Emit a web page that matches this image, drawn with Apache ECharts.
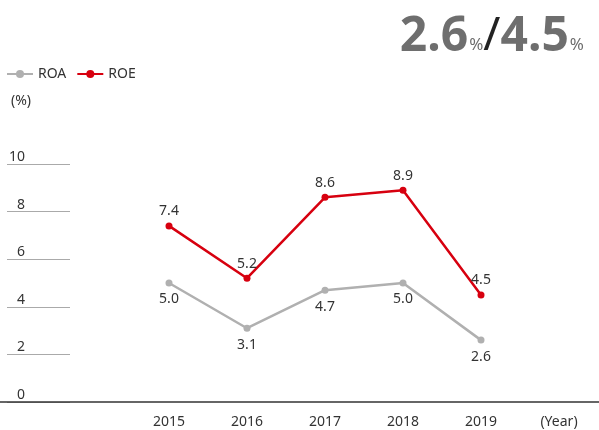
<!DOCTYPE html>
<html>
<head>
<meta charset="utf-8">
<script src="https://cdn.jsdelivr.net/npm/echarts@6/dist/echarts.min.js"></script>
<style>
  html, body { margin: 0; padding: 0; background: #fff; }
  #chart { width: 599px; height: 430px; }
</style>
</head>
<body>
<div id="chart"></div>
<script>
// 数据
const years = ["2015", "2016", "2017", "2018", "2019"];
const roa = [5.0, 3.1, 4.7, 5.0, 2.6];
const roe = [7.4, 5.2, 8.6, 8.9, 4.5];
const yMin = 0, yMax = 10, yStep = 2;
const unitLabel = "(Year)";

(function () {
    let myChart = echarts.init(document.getElementById("chart"));
    const font = "Noto Sans";
    const textColor = "#333";

    let option = {
        animation: false,
        textStyle: { fontFamily: font },
        title: [
            {
                right: 10,
                top: 8,
                text: "{a|2.6}{b|%}{c|/}{a|4.5}{b|%}",
                textStyle: {
                    rich: {
                        a: { fontSize: 48, fontWeight: "bold", color: "#6e6e6e", fontFamily: font },
                        b: { fontSize: 17, fontWeight: "normal", color: "#6e6e6e", fontFamily: font, padding: [16, 0, 0, 1] },
                        c: { fontSize: 46, fontWeight: "normal", color: "#222", fontFamily: font }
                    }
                }
            },
            {
                left: 6,
                top: 89,
                text: "(%)",
                textStyle: { fontSize: 14, fontWeight: "normal", color: textColor, fontFamily: font }
            }
        ],
        legend: {
            left: 1,
            top: 62,
            itemWidth: 26,
            itemHeight: 10,
            itemGap: 10,
            textStyle: { fontSize: 14, color: textColor },
            data: ["ROA", "ROE"]
        },
        grid: [
            // 底部横线
            { left: 0, right: 0, top: 164, bottom: 28 },
            // 左侧短刻度线
            { left: 7, width: 63, top: 164, bottom: 28 },
            // 折线区域
            { left: 130, right: 1, top: 164, bottom: 28 }
        ],
        xAxis: [
            {
                gridIndex: 0, type: "value", min: 0, max: 1,
                axisLine: { show: true, lineStyle: { color: "#333", width: 1.5 } },
                axisTick: { show: false }, axisLabel: { show: false }, splitLine: { show: false }
            },
            {
                gridIndex: 1, type: "value", min: 0, max: 1, show: false
            },
            {
                gridIndex: 2, type: "category", data: years.concat([unitLabel]),
                axisLine: { show: false }, axisTick: { show: false },
                axisLabel: { color: textColor, fontSize: 14, margin: 13 }
            }
        ],
        yAxis: [
            { gridIndex: 0, type: "value", min: yMin, max: yMax, show: false },
            {
                gridIndex: 1, type: "value", min: yMin, max: yMax, interval: yStep,
                axisLine: { show: false }, axisTick: { show: false },
                axisLabel: {
                    inside: true, align: "right", verticalAlign: "bottom",
                    margin: 18, color: textColor, fontSize: 14
                },
                splitLine: { lineStyle: { color: "#aaa", width: 1 } }
            },
            { gridIndex: 2, type: "value", min: yMin, max: yMax, show: false }
        ],
        series: [
            {
                name: "ROA",
                type: "line",
                xAxisIndex: 2, yAxisIndex: 2,
                data: roa,
                color: "#b0b0b0",
                symbol: "circle", symbolSize: 7,
                lineStyle: { width: 2.5 },
                label: {
                    show: true, position: "bottom", distance: 6,
                    color: textColor, fontSize: 14,
                    formatter: p => p.value.toFixed(1)
                }
            },
            {
                name: "ROE",
                type: "line",
                xAxisIndex: 2, yAxisIndex: 2,
                data: roe,
                color: "#d7000f",
                symbol: "circle", symbolSize: 7,
                lineStyle: { width: 2.5 },
                label: {
                    show: true, position: "top", distance: 4,
                    color: textColor, fontSize: 14,
                    formatter: p => p.value.toFixed(1)
                }
            }
        ]
    };
    myChart.setOption(option);
    window.addEventListener("resize", function () {
        myChart.resize();
    });
})();
</script>
</body>
</html>
